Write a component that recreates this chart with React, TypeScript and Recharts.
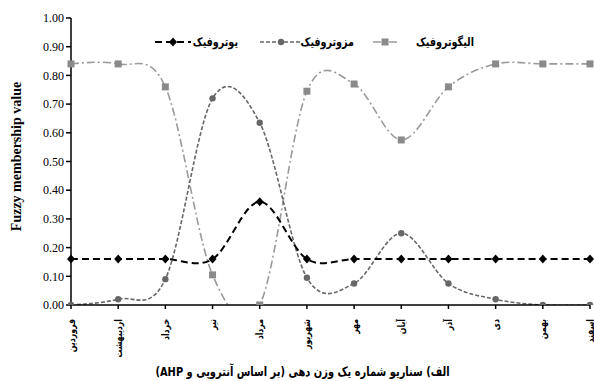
import { Line, LineChart, XAxis, YAxis } from "recharts";

const months = [
  "فروردین",
  "اردیبهشت",
  "خرداد",
  "تیر",
  "مرداد",
  "شهریور",
  "مهر",
  "آبان",
  "آذر",
  "دی",
  "بهمن",
  "اسفند",
];

// یوتروفیک
const eutrophic = [0.16, 0.16, 0.16, 0.16, 0.36, 0.16, 0.16, 0.16, 0.16, 0.16, 0.16, 0.16];
// مزوتروفیک
const mesotrophic = [0.0, 0.02, 0.09, 0.72, 0.635, 0.095, 0.075, 0.25, 0.075, 0.02, 0.0, 0.0];
// الیگوتروفیک
const oligotrophic = [0.84, 0.84, 0.76, 0.105, 0.0, 0.745, 0.77, 0.575, 0.76, 0.84, 0.84, 0.84];

const yTicks = [0, 0.1, 0.2, 0.3, 0.4, 0.5, 0.6, 0.7, 0.8, 0.9, 1];

const rows = months.map((month, i) => ({
  month,
  eu: eutrophic[i],
  meso: mesotrophic[i],
  oligo: oligotrophic[i],
}));

const serif = "'Liberation Serif', 'Times New Roman', serif";
const persian = "'DejaVu Sans', sans-serif";

// excel-like smoothed line (catmull-rom, same as d3 cardinal with tension 0)
function smoothCurve(context: any) {
  const k = 1 / 6;
  let x0 = NaN, y0 = NaN, x1 = NaN, y1 = NaN, x2 = NaN, y2 = NaN;
  let pt = 0;
  let line = NaN;
  const seg = (x: number, y: number) => {
    context.bezierCurveTo(
      x1 + k * (x2 - x0),
      y1 + k * (y2 - y0),
      x2 + k * (x1 - x),
      y2 + k * (y1 - y),
      x2,
      y2,
    );
  };
  return {
    areaStart() {
      line = 0;
    },
    areaEnd() {
      line = NaN;
    },
    lineStart() {
      x0 = x1 = x2 = y0 = y1 = y2 = NaN;
      pt = 0;
    },
    lineEnd() {
      if (pt === 2) context.lineTo(x2, y2);
      else if (pt === 3) seg(x1, y1);
      if (line || (line !== 0 && pt === 1)) context.closePath();
      line = 1 - line;
    },
    point(x: number, y: number) {
      x = +x;
      y = +y;
      switch (pt) {
        case 0:
          pt = 1;
          if (line) context.lineTo(x, y);
          else context.moveTo(x, y);
          break;
        case 1:
          pt = 2;
          x1 = x;
          y1 = y;
          break;
        case 2:
          pt = 3;
          seg(x, y);
          break;
        default:
          seg(x, y);
          break;
      }
      x0 = x1;
      x1 = x2;
      x2 = x;
      y0 = y1;
      y1 = y2;
      y2 = y;
    },
  };
}

const Diamond = ({ cx, cy, index }: any) => (
  <polygon
    key={`d-${index}`}
    points={`${cx},${cy - 4.5} ${cx + 4},${cy} ${cx},${cy + 4.5} ${cx - 4},${cy}`}
    fill="#000"
  />
);

const Square = ({ cx, cy, index }: any) => (
  <rect key={`s-${index}`} x={cx - 3.5} y={cy - 3.5} width={7} height={7} fill="#8a8a8a" />
);

const Circle = ({ cx, cy, index }: any) => (
  <circle key={`c-${index}`} cx={cx} cy={cy} r={3.2} fill="#676767" />
);

const MonthTick = ({ x, y, payload }: any) => (
  <text
    transform={`translate(${x},${y + 8}) rotate(-90) scale(0.78,1)`}
    textAnchor="end"
    dy="0.35em"
    fontSize={10}
    fontFamily={persian}
    fontWeight={700}
    fill="#000"
  >
    {payload.value}
  </text>
);

const LegendText = ({ x, label }: { x: number; label: string }) => (
  <text
    transform={`translate(${x},14) scale(0.8,1)`}
    textAnchor="end"
    fontSize={12}
    fontWeight={700}
    fontFamily={persian}
    fill="#000"
  >
    {label}
  </text>
);

function LegendBar() {
  return (
    <svg width={594} height={20} style={{ position: "absolute", left: 0, top: 32 }}>
      <g>
        <line x1={155} x2={191} y1={10} y2={10} stroke="#000" strokeWidth={2} strokeDasharray="7 4" />
        <Diamond cx={173} cy={10} index={0} />
        <LegendText x={238} label="یوتروفیک" />
      </g>
      <g>
        <line x1={260} x2={300} y1={10} y2={10} stroke="#676767" strokeWidth={1.6} strokeDasharray="4 2" />
        <Circle cx={281} cy={10} index={0} />
        <LegendText x={354} label="مزوتروفیک" />
      </g>
      <g>
        <line x1={373} x2={397} y1={10} y2={10} stroke="#9a9a9a" strokeWidth={1.6} strokeDasharray="8 3 2 3" />
        <Square cx={385} cy={10} index={0} />
        <LegendText x={474} label="الیگوتروفیک" />
      </g>
    </svg>
  );
}

export default function App() {
  return (
    <div style={{ position: "absolute", left: 0, top: 0, width: 594, height: 381, background: "#fff" }}>
      <LineChart width={594} height={381} data={rows} margin={{ top: 18, right: 4, bottom: 0, left: 0 }}>
        <XAxis
          dataKey="month"
          height={76}
          interval={0}
          tick={<MonthTick />}
          tickSize={4}
          stroke="#000"
          strokeWidth={1.5}
        />
        <YAxis
          width={71}
          domain={[0, 1]}
          allowDataOverflow
          ticks={yTicks}
          tickFormatter={(v) => Number(v).toFixed(2)}
          tick={{ fontSize: 12, fontFamily: serif, fill: "#000" }}
          tickSize={5}
          stroke="#000"
          strokeWidth={1.5}
          label={{
            value: "Fuzzy membership value",
            angle: -90,
            position: "insideLeft",
            offset: 16,
            dy: -5,
            style: { fontSize: 14, fontWeight: 700, fontFamily: serif, fill: "#000", textAnchor: "middle" },
          }}
        />
        <Line
          dataKey="oligo"
          type={smoothCurve as any}
          stroke="#9a9a9a"
          strokeWidth={1.6}
          strokeDasharray="8 3 2 3"
          dot={false}
          activeDot={false}
          isAnimationActive={false}
        />
        <Line
          dataKey="meso"
          type={smoothCurve as any}
          stroke="#676767"
          strokeWidth={1.6}
          strokeDasharray="4 2"
          dot={false}
          activeDot={false}
          isAnimationActive={false}
        />
        <Line
          dataKey="eu"
          type={smoothCurve as any}
          stroke="#000"
          strokeWidth={2}
          strokeDasharray="7 4"
          dot={false}
          activeDot={false}
          isAnimationActive={false}
        />
        {/* markers drawn on top of the clipped curves */}
        <Line
          dataKey="oligo"
          stroke="none"
          dot={<Square />}
          activeDot={false}
          legendType="none"
          isAnimationActive={false}
        />
        <Line
          dataKey="meso"
          stroke="none"
          dot={<Circle />}
          activeDot={false}
          legendType="none"
          isAnimationActive={false}
        />
        <Line
          dataKey="eu"
          stroke="none"
          dot={<Diamond />}
          activeDot={false}
          legendType="none"
          isAnimationActive={false}
        />
      </LineChart>
      <LegendBar />
      <div
        style={{
          position: "absolute",
          left: 0,
          width: 606,
          top: 362,
          textAlign: "center",
          color: "#000",
        }}
      >
        <span
          style={{
            display: "inline-block",
            fontFamily: persian,
            fontWeight: 700,
            fontSize: 13,
            direction: "rtl",
            transform: "scaleX(0.76)",
            whiteSpace: "nowrap",
          }}
        >
          الف) سناریو شماره یک وزن دهی (بر اساس آنتروپی و AHP)
        </span>
      </div>
    </div>
  );
}
